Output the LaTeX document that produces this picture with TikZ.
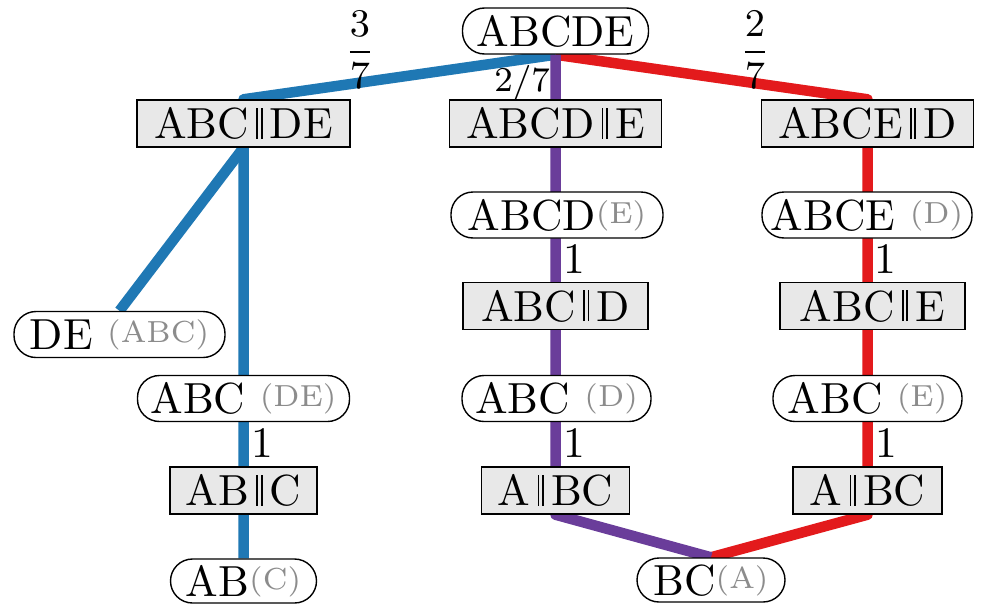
\documentclass[tikz,border=0pt]{standalone}
\usepackage{graphicx}
\usetikzlibrary{backgrounds}
\definecolor{cblue}{HTML}{1F78B4}
\definecolor{cpurple}{HTML}{6A3D9A}
\definecolor{cred}{HTML}{E31A1C}
\definecolor{boxfill}{HTML}{E8E8E8}
\definecolor{annot}{HTML}{8C8C8C}
\newcommand{\Txt}[1]{\scalebox{4.35}{#1}}
\newcommand{\Ann}[1]{\raisebox{1.5pt}{\textcolor{annot}{\fontsize{7}{8}\selectfont(#1)}}}
\newcommand{\Par}{\kern1.7pt\rule{0.4pt}{7.1pt}\kern0.6pt\rule{0.4pt}{7.1pt}\kern1.7pt}
\tikzset{
  sbox/.style={draw, line width=1.4pt, fill=boxfill, inner sep=0pt, minimum height=47pt, text height=30pt, text depth=0pt},
  rbox/.style={draw, line width=1.4pt, fill=white, rounded corners=22pt, inner sep=0pt, minimum height=46pt, text height=30pt, text depth=0pt},
  lab/.style={inner sep=0pt},
  link/.style={line width=10.5pt, line join=round}
}
\begin{document}
\begin{tikzpicture}[x=1pt,y=-1pt]
\useasboundingbox (0,0) rectangle (981,605);
% row 0
\node[rbox, minimum width=186pt] (abcde) at (555.5,31) {\Txt{ABCDE}};
% row 1
\node[sbox, minimum width=213pt] (abcvde) at (243.5,123.5) {\Txt{ABC\Par DE}};
\node[sbox, minimum width=212pt] (abcdve) at (555.5,123.5) {\Txt{ABCD\Par E}};
\node[sbox, minimum width=212pt] (abcevd) at (867.5,123.5) {\Txt{ABCE\Par D}};
% row 2
\node[rbox, minimum width=212pt] (abcd_e) at (557,215) {\Txt{ABCD\Ann{E}}};
\node[rbox, minimum width=210pt] (abce_d) at (867,215) {\Txt{ABCE\ \Ann{D}}};
% row 3
\node[rbox, minimum width=211pt] (de_abc) at (119.5,334.5) {\Txt{DE\ \Ann{ABC}}};
\node[sbox, minimum width=185pt] (abcvd) at (555.5,306) {\Txt{ABC\Par D}};
\node[sbox, minimum width=185pt] (abcve) at (872.5,306) {\Txt{ABC\Par E}};
% row 4
\node[rbox, minimum width=212pt] (abc_de) at (243.5,398.5) {\Txt{ABC\ \Ann{DE}}};
\node[rbox, minimum width=189pt] (abc_d) at (556.5,398.5) {\Txt{ABC\ \Ann{D}}};
\node[rbox, minimum width=189pt] (abc_e) at (867.5,398.5) {\Txt{ABC\ \Ann{E}}};
% row 5
\node[sbox, minimum width=147pt] (abvc) at (243.5,490.5) {\Txt{AB\Par C}};
\node[sbox, minimum width=148pt] (avbcm) at (555.5,490.5) {\Txt{A\Par BC}};
\node[sbox, minimum width=149pt] (avbcr) at (867.5,490.5) {\Txt{A\Par BC}};
% row 6
\node[rbox, minimum width=146pt, minimum height=44pt] (ab_c) at (243.5,581) {\Txt{AB\Ann{C}}};
\node[rbox, minimum width=148pt, minimum height=44pt] (bc_a) at (711,580) {\Txt{BC\Ann{A}}};
% labels
\node[lab] (l37) at (360,50) {\Txt{\small$\displaystyle\frac{3}{7}$}};
\node[lab] (l27a) at (522,83) {\Txt{\footnotesize$2/7$}};
\node[lab] (l27b) at (755,50) {\Txt{\small$\displaystyle\frac{2}{7}$}};
\node[lab] (l1a) at (574,259) {\Txt{1}};
\node[lab] (l1b) at (885,259) {\Txt{1}};
\node[lab] (l1c) at (262,443) {\Txt{1}};
\node[lab] (l1d) at (574,443) {\Txt{1}};
\node[lab] (l1e) at (886,443) {\Txt{1}};
\begin{scope}[on background layer]
\fill[white] (0,0) rectangle (981,605);
\draw[link, cblue] (abcde.south) -- (abcvde.north) -- (ab_c.north);
\draw[link, cblue] (abcvde.south) -- (de_abc.north);
\draw[link, cred] (abcde.south) -- (abcevd.north) -- (avbcr.south) -- (bc_a.north);
\draw[link, cpurple] (abcde.south) -- (avbcm.south) -- (bc_a.north);
\end{scope}
\end{tikzpicture}
\end{document}
